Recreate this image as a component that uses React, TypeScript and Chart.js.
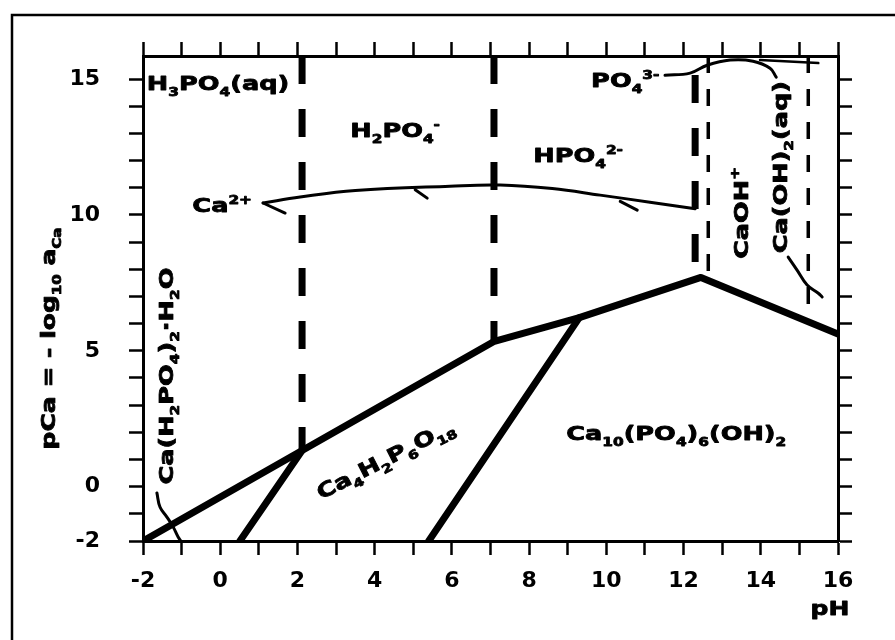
import React, { useEffect, useRef } from "react";
import { Chart, registerables } from "chart.js";
Chart.register(...registerables);

// ---------- axes ----------
const PH_MIN = -2;
const PH_MAX = 16;
const PCA_MIN = -2;
const PCA_MAX = 15.85;
const xTickLabels = [-2, 0, 2, 4, 6, 8, 10, 12, 14, 16];
const yTickLabels = [-2, 0, 5, 10, 15];
const yMinorTicks = [-2, -1, 0, 1, 2, 3, 4, 5, 6, 7, 8, 9, 10, 11, 12, 13, 14, 15];

// ---------- solubility boundaries (solid thick) ----------
const boundaryPH = [-2, 2.12, 7.1, 9.3, 12.45, 16];
const boundaryPCa = [-2, 1.33, 5.35, 6.22, 7.7, 5.62];
const ca4LeftPH = [0.51, 2.12];
const ca4LeftPCa = [-2, 1.33];
const hapLeftPH = [5.4, 9.3];
const hapLeftPCa = [-2, 6.22];

// ---------- thin curves ----------
const mcpmPH = [-1.64, -1.56, -1.38, -1.22, -1.09, -1.02];
const mcpmPCa = [-0.23, -0.75, -1.12, -1.48, -1.85, -2.0];
const caIonPH = [1.11, 2.07, 3.5, 5.95, 7.25, 8.6, 9.84, 11.13, 12.3];
const caIonPCa = [10.44, 10.66, 10.9, 11.06, 11.1, 10.97, 10.73, 10.47, 10.23];
const caIonHookPH = [1.11, 1.68];
const caIonHookPCa = [10.44, 10.07];
const caIonTick1PH = [5.05, 5.36];
const caIonTick1PCa = [10.93, 10.62];
const caIonTick2PH = [10.36, 10.8];
const caIonTick2PCa = [10.5, 10.18];
const po4PH = [11.52, 12.17, 12.61, 13.21, 13.8, 14.24, 14.4];
const po4PCa = [15.14, 15.22, 15.51, 15.7, 15.66, 15.4, 15.07];
const po4TopPH = [13.98, 15.49];
const po4TopPCa = [15.7, 15.59];
const caOH2PH = [14.71, 14.94, 15.2, 15.49, 15.59];
const caOH2PCa = [8.45, 7.97, 7.42, 7.12, 6.98];

// ---------- dominant species boundaries (dashed verticals) ----------
const thickDashPH = [2.12, 7.09, 12.3];
const thickDashTop = [15.85, 15.85, 15.15];
const thickDashBottom = [1.33, 5.35, 7.7];
const thinDashPH = [12.64, 15.23];
const thinDashTop = [15.85, 15.85];
const thinDashBottom = [7.59, 6.06];

// ---------- region labels ----------
const labelTexts = [
  "H_{3}PO_{4}(aq)",
  "H_{2}PO_{4}^{-}",
  "HPO_{4}^{2-}",
  "PO_{4}^{3-}",
  "Ca^{2+}",
  "CaOH^{+}",
  "Ca(OH)_{2}(aq)",
  "Ca(H_{2}PO_{4})_{2}·H_{2}O",
  "Ca_{4}H_{2}P_{6}O_{18}",
  "Ca_{10}(PO_{4})_{6}(OH)_{2}",
];
const labelPH = [-1.9, 4.53, 9.27, 10.49, 0.05, 13.47, 14.5, -1.4, 4.27, 11.81];
const labelPCa = [14.85, 13.12, 12.2, 14.96, 10.36, 10.07, 11.76, 4.07, 1.02, 1.97];
const labelRot = [0, 0, 0, 0, 0, -90, -90, -90, -27, 0];
const labelAlign = ["left", "center", "center", "center", "center", "center", "center", "center", "center", "center"];

const FAMILY = '"DejaVu Sans", "Liberation Sans", sans-serif';

type Seg = { t: string; k: number; w?: number };
function parseRich(s: string): Seg[] {
  const out: Seg[] = [];
  let i = 0;
  let buf = "";
  while (i < s.length) {
    if ((s[i] === "_" || s[i] === "^") && s[i + 1] === "{") {
      if (buf) { out.push({ t: buf, k: 0 }); buf = ""; }
      const end = s.indexOf("}", i);
      out.push({ t: s.slice(i + 2, end), k: s[i] === "_" ? -1 : 1 });
      i = end + 1;
    } else {
      buf += s[i];
      i++;
    }
  }
  if (buf) out.push({ t: buf, k: 0 });
  return out;
}

function drawRich(ctx: CanvasRenderingContext2D, s: string, x: number, y: number, size: number, rot: number, stretch: number, align: string) {
  const segs = parseRich(s);
  const fontFor = (k: number) => `bold ${k === 0 ? size : Math.round(size * 0.6)}px ${FAMILY}`;
  let w = 0;
  for (const seg of segs) {
    ctx.font = fontFor(seg.k);
    seg.w = ctx.measureText(seg.t).width;
    w += seg.w;
  }
  ctx.save();
  ctx.translate(x, y);
  ctx.rotate((rot * Math.PI) / 180);
  ctx.scale(stretch, 1);
  let cx = align === "left" ? 0 : -w / 2;
  ctx.textBaseline = "alphabetic";
  ctx.textAlign = "left";
  ctx.fillStyle = "#000";
  ctx.strokeStyle = "#000";
  ctx.lineWidth = 0.8;
  ctx.lineJoin = "round";
  const base = size * 0.36;
  for (const seg of segs) {
    ctx.font = fontFor(seg.k);
    const dy = seg.k === -1 ? size * 0.3 : seg.k === 1 ? -size * 0.42 : 0;
    ctx.fillText(seg.t, cx, base + dy);
    ctx.strokeText(seg.t, cx, base + dy);
    cx += seg.w || 0;
  }
  ctx.restore();
}

const pts = (xs: number[], ys: number[]) => xs.map((x, i) => ({ x, y: ys[i] }));

const annotationPlugin = {
  id: "phaseAnnotations",
  afterDraw(chart: any) {
    const ctx: CanvasRenderingContext2D = chart.ctx;
    const xs = chart.scales.x;
    const ys = chart.scales.y;
    const area = chart.chartArea;
    // outer frame (left and top edges of the scanned figure box)
    ctx.save();
    ctx.strokeStyle = "#000";
    ctx.lineWidth = 2.5;
    ctx.beginPath();
    ctx.moveTo(12, 640);
    ctx.lineTo(12, 15);
    ctx.lineTo(895, 15);
    ctx.stroke();
    ctx.restore();
    // region labels
    labelTexts.forEach((t, i) => {
      drawRich(ctx, t, xs.getPixelForValue(labelPH[i]), ys.getPixelForValue(labelPCa[i]), 20, labelRot[i], 1.28, labelAlign[i]);
    });
    // axis titles
    drawRich(ctx, "pCa = - log_{10} a_{Ca}", area.left - 95, (area.top + area.bottom) / 2 + 40, 20, -90, 1.25, "center");
    drawRich(ctx, "pH", area.right - 8, area.bottom + 67, 20, 0, 1.25, "center");
  },
};

const solid = (data: any, width: number, tension = 0) => ({
  data,
  showLine: true,
  borderColor: "#000",
  borderWidth: width,
  pointRadius: 0,
  fill: false,
  tension,
  borderCapStyle: "round",
  borderJoinStyle: "round",
});

const dashed = (data: any, width: number, dash: number[]) => ({
  data,
  showLine: true,
  borderColor: "#000",
  borderWidth: width,
  borderDash: dash,
  pointRadius: 0,
  fill: false,
});

export default function App() {
  const ref = useRef<HTMLCanvasElement>(null);
  useEffect(() => {
    if (!ref.current) return;
    const datasets: any[] = [
      solid(pts(boundaryPH, boundaryPCa), 7),
      solid(pts(ca4LeftPH, ca4LeftPCa), 7),
      solid(pts(hapLeftPH, hapLeftPCa), 7),
      solid(pts(mcpmPH, mcpmPCa), 3, 0.4),
      solid(pts(caIonPH, caIonPCa), 3, 0.4),
      solid(pts(caIonHookPH, caIonHookPCa), 3),
      solid(pts(caIonTick1PH, caIonTick1PCa), 3),
      solid(pts(caIonTick2PH, caIonTick2PCa), 3),
      solid(pts(po4PH, po4PCa), 3, 0.4),
      solid(pts(po4TopPH, po4TopPCa), 2.5),
      solid(pts(caOH2PH, caOH2PCa), 3, 0.4),
    ];
    thickDashPH.forEach((x, i) => {
      datasets.push(dashed([{ x, y: thickDashTop[i] }, { x, y: thickDashBottom[i] }], 7, [28, 25]));
    });
    thinDashPH.forEach((x, i) => {
      datasets.push(dashed([{ x, y: thinDashTop[i] }, { x, y: thinDashBottom[i] }], 3.5, [17, 16]));
    });

    const tickFont = { family: FAMILY, size: 22, weight: "bold" as const };
    const grid = { drawOnChartArea: false, drawTicks: true, tickLength: 14, tickWidth: 2.5, tickColor: "#000" };
    const border = { display: true, color: "#000", width: 3 };
    const setYTicks = (s: any) => { s.ticks = yMinorTicks.map((v) => ({ value: v })); };

    const chart = new Chart(ref.current, {
      type: "scatter",
      data: { datasets },
      options: {
        responsive: false,
        animation: false,
        layout: { padding: 0 },
        plugins: { legend: { display: false }, tooltip: { enabled: false } },
        scales: {
          x: {
            type: "linear", position: "bottom", min: PH_MIN, max: PH_MAX,
            ticks: { stepSize: 1, autoSkip: false, maxRotation: 0, font: tickFont, color: "#000", padding: 13,
              callback: (v: any) => (xTickLabels.includes(Number(v)) ? String(v) : "") },
            grid, border,
            afterFit: (s: any) => { s.height = 99; },
          },
          x2: {
            type: "linear", position: "top", min: PH_MIN, max: PH_MAX,
            ticks: { stepSize: 1, autoSkip: false, maxRotation: 0, callback: () => "" },
            grid, border,
            afterFit: (s: any) => { s.height = 56; },
          },
          y: {
            type: "linear", position: "left", min: PCA_MIN, max: PCA_MAX,
            afterBuildTicks: setYTicks,
            ticks: { autoSkip: false, font: tickFont, color: "#000", padding: 29,
              callback: (v: any) => (yTickLabels.includes(Number(v)) ? String(v) : "") },
            grid, border,
            afterFit: (s: any) => { s.width = 143; },
          },
          y2: {
            type: "linear", position: "right", min: PCA_MIN, max: PCA_MAX,
            afterBuildTicks: setYTicks,
            ticks: { autoSkip: false, callback: () => "" },
            grid, border,
            afterFit: (s: any) => { s.width = 57; },
          },
        },
      } as any,
      plugins: [annotationPlugin],
    });
    return () => chart.destroy();
  }, []);

  return (
    <div style={{ position: "absolute", left: 0, top: 0, width: 895, height: 640, background: "#fff" }}>
      <canvas ref={ref} width={895} height={640} style={{ display: "block" }} />
    </div>
  );
}
